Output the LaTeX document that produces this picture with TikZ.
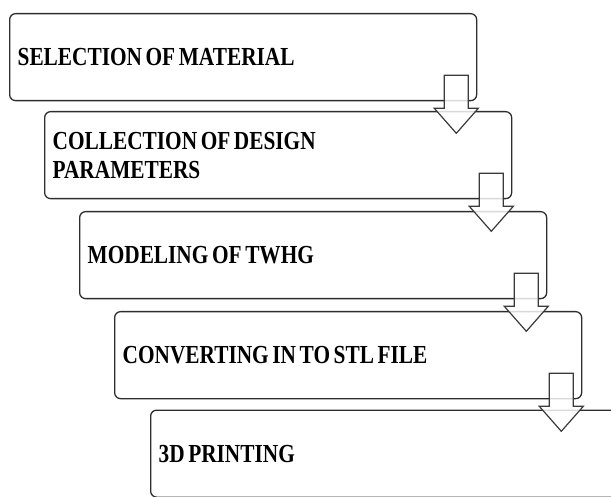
\documentclass[tikz,border=0pt]{standalone}
\usepackage{fontspec}
\setmainfont{Liberation Serif}
\newfontfamily\boxfont{Liberation Serif}[FakeStretch=0.82]
\usetikzlibrary{calc}
\definecolor{edge}{HTML}{2E2E2E}
\definecolor{arredge}{HTML}{3A3A3A}
\newcommand\tightwords{\spaceskip=3.6pt plus 1pt minus 0.5pt\relax}
\tikzset{
  stepbox/.style={draw=edge, line width=1.3pt, rounded corners=6pt, fill=white,
    anchor=north west, minimum height=87pt, text width=451pt, inner xsep=8pt,
    inner ysep=0pt, align=left,
    font=\boxfont\bfseries\fontsize{26}{29}\selectfont\tightwords},
  blockarrow/.style={draw=arredge, line width=1.2pt, fill=white, fill opacity=0.82,
    line join=miter},
  downarr/.pic={
    \draw[blockarrow] (-12,0) -- (-12,33) -- (-22,33) -- (0,58) -- (22,33)
      -- (12,33) -- (12,0) -- cycle;
  }
}
\begin{document}
\begin{tikzpicture}[x=1pt, y=-1pt]
\useasboundingbox[fill=white] (0,0) rectangle (611,497);
\node[stepbox] (b1) at (9,13) {\tightwords SELECTION OF MATERIAL};
\node[stepbox] (b2) at (44,111) {\tightwords COLLECTION OF DESIGN\\PARAMETERS};
\node[stepbox] (b3) at (79,211) {\tightwords MODELING OF TWHG};
\node[stepbox] (b4) at (114,311) {\tightwords CONVERTING IN TO STL FILE};
\node[stepbox] (b5) at (150,409.5) {\tightwords 3D PRINTING};
\foreach \i in {1,2,3,4}{
  \coordinate (a\i) at ($(b\i.south east)+(-21,-26)$);
  \pic at (a\i) {downarr};
}
\end{tikzpicture}
\end{document}
